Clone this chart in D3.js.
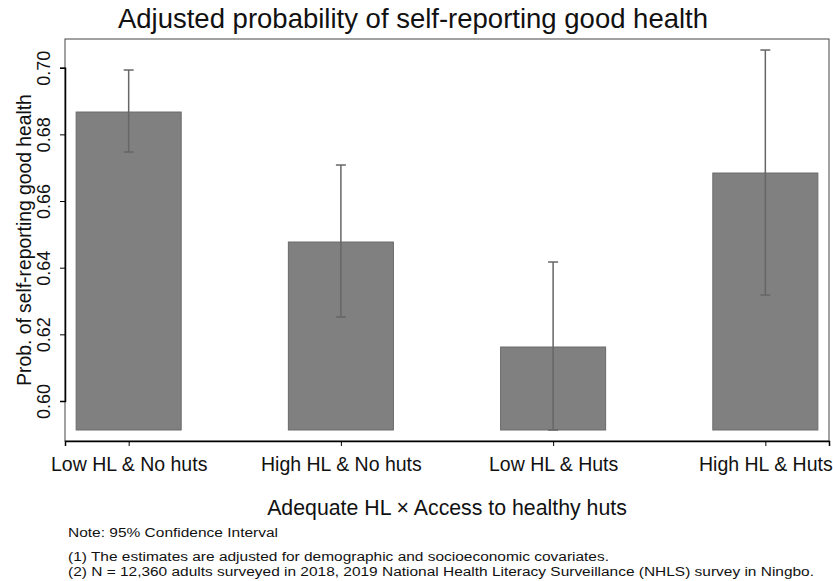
<!DOCTYPE html>
<html>
<head>
<meta charset="utf-8">
<script src="https://cdn.jsdelivr.net/npm/d3@7"></script>
<style>
  body { margin: 0; background: #fff; }
  text { font-family: "Liberation Sans", Arial, sans-serif; fill: #111; }
</style>
</head>
<body>
<div id="chart"></div>
<script>
const categories = ['Low HL & No huts', 'High HL & No huts', 'Low HL & Huts', 'High HL & Huts'];
const estimates = [0.6867, 0.6477, 0.6162, 0.6684];
const ciLower = [0.6747, 0.6252, 0.5913, 0.6318];
const ciUpper = [0.6993, 0.6708, 0.6417, 0.7053];
const yTicks = [0.60, 0.62, 0.64, 0.66, 0.68, 0.70];
const baseValue = 0.5913;
const notes = [
  'Note: 95% Confidence Interval',
  '(1) The estimates are adjusted for demographic and socioeconomic covariates.',
  '(2) N = 12,360 adults surveyed in 2018, 2019 National Health Literacy Surveillance (NHLS) survey in Ningbo.'
];

const width = 833, height = 581;
const margin = { top: 39, right: 4, bottom: 140, left: 65 };

const svg = d3.select('#chart')
  .append('svg')
  .attr('width', width)
  .attr('height', height);

const x = d3.scalePoint()
  .domain(categories)
  .range([margin.left, width - margin.right])
  .padding(0.3);

const y = d3.scaleLinear()
  .domain([0.6, 0.7])
  .range([401, 67.7]);

const step = x.step();
const barW = step * 0.495;

// plot frame
svg.append('rect')
  .attr('x', margin.left)
  .attr('y', margin.top)
  .attr('width', width - margin.right - margin.left)
  .attr('height', height - margin.bottom - margin.top)
  .attr('fill', 'none')
  .attr('stroke', '#444')
  .attr('stroke-width', 1);

// bars
svg.append('g')
  .selectAll('rect')
  .data(categories)
  .enter()
  .append('rect')
  .attr('x', d => x(d) - barW / 2)
  .attr('y', (d, i) => y(estimates[i]))
  .attr('width', barW)
  .attr('height', (d, i) => y(baseValue) - y(estimates[i]))
  .attr('fill', '#808080')
  .attr('stroke', '#6a6a6a')
  .attr('stroke-width', 1);

// error bars
const eb = svg.append('g')
  .attr('stroke', '#666')
  .attr('stroke-width', 1.5);

eb.selectAll('line.v')
  .data(categories)
  .enter()
  .append('line')
  .attr('class', 'v')
  .attr('x1', d => x(d))
  .attr('x2', d => x(d))
  .attr('y1', (d, i) => y(ciLower[i]))
  .attr('y2', (d, i) => y(ciUpper[i]));

['lo', 'hi'].forEach(k => {
  eb.selectAll('line.' + k)
    .data(categories)
    .enter()
    .append('line')
    .attr('class', k)
    .attr('x1', d => x(d) - 5)
    .attr('x2', d => x(d) + 5)
    .attr('y1', (d, i) => y(k === 'lo' ? ciLower[i] : ciUpper[i]))
    .attr('y2', (d, i) => y(k === 'lo' ? ciLower[i] : ciUpper[i]));
});

// y axis
const yAxis = svg.append('g')
  .attr('transform', `translate(${margin.left},0)`)
  .call(d3.axisLeft(y).tickValues(yTicks).tickFormat(d3.format('.2f')).tickSize(5).tickPadding(4));
yAxis.select('.domain').attr('stroke', '#000').attr('stroke-width', 1.5);
yAxis.selectAll('.tick line').attr('stroke', '#000');
yAxis.selectAll('.tick text')
  .attr('font-size', 18)
  .attr('text-anchor', 'middle')
  .attr('transform', 'rotate(-90)')
  .attr('x', 0)
  .attr('y', -15)
  .attr('dy', 0)
  .attr('fill', '#111')
  .style('font-family', '"Liberation Sans", Arial, sans-serif');

// x axis
const xAxis = svg.append('g')
  .attr('transform', `translate(0,${height - margin.bottom})`)
  .call(d3.axisBottom(x).tickSize(5).tickPadding(6));
xAxis.select('.domain').attr('stroke', '#000').attr('stroke-width', 1.5);
xAxis.selectAll('.tick line').attr('stroke', '#000');
xAxis.selectAll('.tick text')
  .attr('font-size', 19.5)
  .attr('y', 30)
  .attr('dy', 0)
  .attr('fill', '#111')
  .style('font-family', '"Liberation Sans", Arial, sans-serif');

// title
svg.append('text')
  .attr('x', 413)
  .attr('y', 28)
  .attr('text-anchor', 'middle')
  .attr('font-size', 27.5)
  .text('Adjusted probability of self-reporting good health');

// axis titles
svg.append('text')
  .attr('transform', `translate(31,${(margin.top + height - margin.bottom) / 2 + 0}) rotate(-90)`)
  .attr('text-anchor', 'middle')
  .attr('font-size', 19.3)
  .text('Prob. of self-reporting good health');

svg.append('text')
  .attr('x', 447)
  .attr('y', 515)
  .attr('text-anchor', 'middle')
  .attr('font-size', 21.3)
  .text('Adequate HL \u00d7 Access to healthy huts');

// notes: narrow face in the original, so squeeze to its widths
const noteWidths = [210, 541, 746];
svg.append('g')
  .selectAll('text')
  .data(notes)
  .enter()
  .append('text')
  .attr('x', 68)
  .attr('y', (d, i) => [537, 561, 576][i])
  .attr('font-size', 12.5)
  .attr('textLength', (d, i) => noteWidths[i])
  .attr('lengthAdjust', 'spacingAndGlyphs')
  .text(d => d);
</script>
</body>
</html>
